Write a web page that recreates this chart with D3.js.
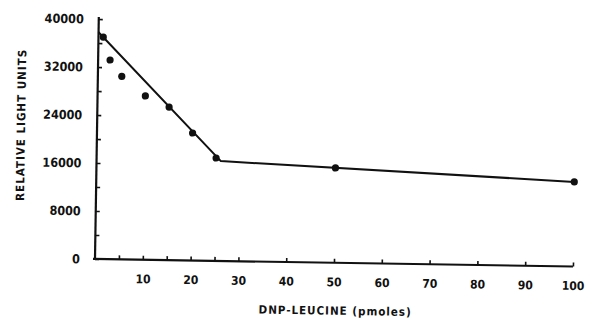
<!DOCTYPE html>
<html>
<head>
<meta charset="utf-8">
<script src="https://cdn.jsdelivr.net/npm/d3@7"></script>
<style>
  html, body { margin: 0; padding: 0; background: #fff; }
  svg { display: block; }
  text { font-family: "DejaVu Sans Condensed", "DejaVu Sans", sans-serif; font-weight: bold; fill: #111; }
</style>
</head>
<body>
<div id="chart"></div>
<script>
// Measured luminescence versus amount of DNP-leucine
const doses = [1, 2.5, 5, 10, 15, 20, 25, 50, 100];
const lightUnits = [37000, 33200, 30500, 27300, 25500, 21250, 17150, 15800, 14100];

// Two-segment fitted line (vertices)
const fitDoses = [0, 26, 100];
const fitUnits = [37800, 16650, 14100];

// Axis ticks and labels
const xTicks = [5, 10, 15, 20, 25, 30, 40, 50, 60, 70, 80, 90, 100];
const xLabels = [10, 20, 30, 40, 50, 60, 70, 80, 90, 100];
const yTicks = [0, 4000, 8000, 12000, 16000, 20000, 24000, 28000, 32000, 36000, 40000];
const yLabels = [0, 8000, 16000, 24000, 32000, 40000];

const xTitle = "DNP-LEUCINE (pmoles)";
const yTitle = "RELATIVE LIGHT UNITS";

const W = 595, H = 325;
const origin = { x: 95, y: 259 };

const svg = d3.select("#chart").append("svg")
  .attr("width", W).attr("height", H);

// whole plate sits slightly tilted
const g = svg.append("g")
  .attr("transform", `rotate(0.9, ${origin.x}, ${origin.y})`);

const x = d3.scaleLinear().domain([0, 100]).range([origin.x, 573]);
const y = d3.scaleLinear().domain([0, 40000]).range([origin.y, 19]);

// y axis: ticks point inward, labels every 8000
const yAxis = d3.axisLeft(y)
  .tickValues(yTicks)
  .tickSizeInner(-4)
  .tickSizeOuter(0)
  .tickPadding(15)
  .tickFormat(d => yLabels.includes(d) ? String(d) : "");

const yG = g.append("g")
  .attr("transform", `translate(${origin.x},0)`)
  .call(yAxis);
yG.select(".domain").attr("d", `M0,${y(0) + 1}V${y(40000) - 2}`);
yG.selectAll(".tick line").attr("stroke", "#111").attr("stroke-width", 1.6);
yG.select(".domain").attr("stroke", "#111").attr("stroke-width", 2.2);
yG.selectAll(".tick text").attr("font-size", 12.5).attr("font-family", null);

// x axis: ticks point inward, labels every 10
const xAxis = d3.axisBottom(x)
  .tickValues(xTicks)
  .tickSizeInner(-4)
  .tickSizeOuter(0)
  .tickPadding(15)
  .tickFormat(d => xLabels.includes(d) ? String(d) : "");

const xG = g.append("g")
  .attr("transform", `translate(0,${origin.y})`)
  .call(xAxis);
xG.select(".domain").attr("d", `M${origin.x - 2},0H${x(100)}`)
  .attr("stroke", "#111").attr("stroke-width", 2.2);
xG.selectAll(".tick line").attr("stroke", "#111").attr("stroke-width", 1.6);
xG.selectAll(".tick text").attr("font-size", 12).attr("font-family", null);

// fitted line
const fit = fitDoses.map((d, i) => [d, fitUnits[i]]);
g.append("path")
  .datum(fit)
  .attr("fill", "none")
  .attr("stroke", "#111")
  .attr("stroke-width", 2)
  .attr("stroke-linejoin", "round")
  .attr("d", d3.line().x(d => x(d[0])).y(d => y(d[1])));

// measured points
g.append("g").selectAll("circle")
  .data(doses.map((d, i) => [d, lightUnits[i]]))
  .join("circle")
  .attr("cx", d => x(d[0]))
  .attr("cy", d => y(d[1]))
  .attr("r", 3.6)
  .attr("fill", "#111");

// axis titles
g.append("text")
  .attr("x", 336).attr("y", 311)
  .attr("text-anchor", "middle")
  .attr("font-size", 11.5)
  .attr("letter-spacing", 1)
  .text(xTitle);

g.append("text")
  .attr("transform", "translate(23,126) rotate(-90)")
  .attr("text-anchor", "middle")
  .attr("font-size", 11.5)
  .attr("letter-spacing", 1)
  .text(yTitle);
</script>
</body>
</html>
